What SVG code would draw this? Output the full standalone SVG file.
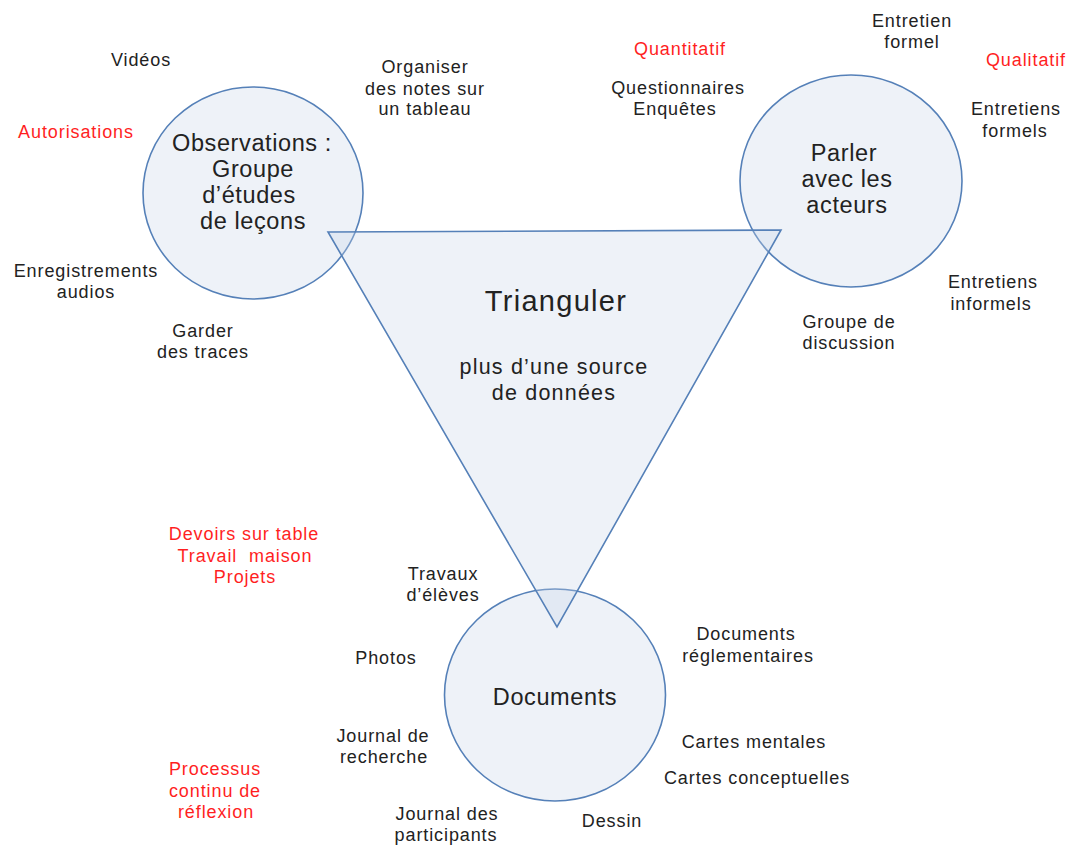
<svg xmlns="http://www.w3.org/2000/svg" width="1067" height="845" viewBox="0 0 1067 845">
<style>
.shape{fill:#c6d4e8;fill-opacity:0.3;stroke:#5580b8;stroke-width:1.6}
text{font-family:"Liberation Sans",Arial,sans-serif;text-anchor:middle;fill:#222}
.lbl{font-size:18px;letter-spacing:0.9px}
.red{fill:#ff1f1f}
.node{font-size:23.5px;letter-spacing:0.6px}
.title{font-size:29px;letter-spacing:1.3px}
.sub{font-size:21.5px;letter-spacing:1.2px}
</style>
<rect width="1067" height="845" fill="#ffffff"/>
<g id="connectors"/>
<g id="observations">
<ellipse class="shape" cx="253" cy="193" rx="110" ry="106"/>
<text class="node" x="252" y="151">Observations :</text>
<text class="node" x="253" y="177">Groupe</text>
<text class="node" x="249" y="203">d’études</text>
<text class="node" x="253" y="229">de leçons</text>
</g>
<g id="parler">
<ellipse class="shape" cx="851" cy="181" rx="111" ry="106"/>
<text class="node" x="844" y="161">Parler</text>
<text class="node" x="847" y="187">avec les</text>
<text class="node" x="847" y="213">acteurs</text>
</g>
<g id="documents">
<ellipse class="shape" cx="555" cy="695" rx="110.5" ry="106"/>
<text class="node" x="555" y="705">Documents</text>
</g>
<g id="trianguler">
<polygon class="shape" points="328,232 781,230 557,627"/>
<text class="title" x="556" y="311">Trianguler</text>
<text class="sub" x="554" y="374">plus d’une source</text>
<text class="sub" x="554" y="400">de données</text>
</g>
<g id="labels-observations">
<text class="lbl" x="141" y="66">Vidéos</text>
<text class="lbl red" x="76" y="138">Autorisations</text>
<text class="lbl" x="86" y="277">Enregistrements</text>
<text class="lbl" x="86" y="298">audios</text>
<text class="lbl" x="203" y="337">Garder</text>
<text class="lbl" x="203" y="358">des traces</text>
<text class="lbl" x="425" y="73">Organiser</text>
<text class="lbl" x="425" y="95">des notes sur</text>
<text class="lbl" x="425" y="115">un tableau</text>
</g>
<g id="labels-parler">
<text class="lbl red" x="680" y="55">Quantitatif</text>
<text class="lbl" x="678" y="94">Questionnaires</text>
<text class="lbl" x="675" y="115">Enquêtes</text>
<text class="lbl" x="912" y="27">Entretien</text>
<text class="lbl" x="912" y="48">formel</text>
<text class="lbl red" x="1026" y="66">Qualitatif</text>
<text class="lbl" x="1016" y="115">Entretiens</text>
<text class="lbl" x="1015" y="137">formels</text>
<text class="lbl" x="993" y="288">Entretiens</text>
<text class="lbl" x="991" y="310">informels</text>
<text class="lbl" x="849" y="328">Groupe de</text>
<text class="lbl" x="849" y="349">discussion</text>
</g>
<g id="labels-documents">
<text class="lbl red" x="244" y="540">Devoirs sur table</text>
<text class="lbl red" x="245" y="562" xml:space="preserve">Travail  maison</text>
<text class="lbl red" x="245" y="583">Projets</text>
<text class="lbl" x="443" y="580">Travaux</text>
<text class="lbl" x="443" y="601">d’élèves</text>
<text class="lbl" x="386" y="664">Photos</text>
<text class="lbl" x="383" y="742">Journal de</text>
<text class="lbl" x="384" y="763">recherche</text>
<text class="lbl red" x="215" y="775">Processus</text>
<text class="lbl red" x="215" y="797">continu de</text>
<text class="lbl red" x="216" y="818">réflexion</text>
<text class="lbl" x="447" y="820">Journal des</text>
<text class="lbl" x="446" y="841">participants</text>
<text class="lbl" x="612" y="827">Dessin</text>
<text class="lbl" x="746" y="640">Documents</text>
<text class="lbl" x="748" y="662">réglementaires</text>
<text class="lbl" x="754" y="748">Cartes mentales</text>
<text class="lbl" x="757" y="784">Cartes conceptuelles</text>
</g>
</svg>
